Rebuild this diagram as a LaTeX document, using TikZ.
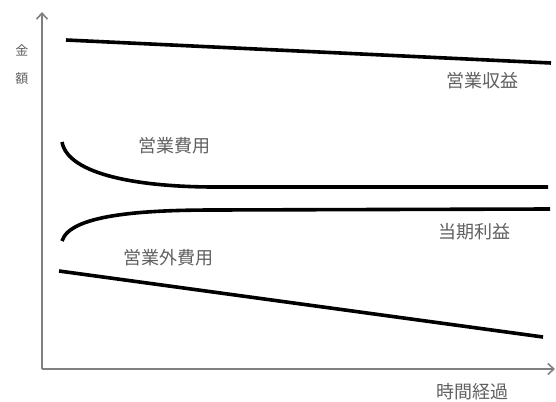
\documentclass[tikz,border=0pt]{standalone}
\usepackage{fontspec}
\newfontfamily\jpfont{Noto Sans CJK JP}
\usetikzlibrary{arrows.meta}

\begin{document}
\begin{tikzpicture}[x=1pt, y=-1pt, >={Straight Barb[length=6pt,width=11pt]},
    axis/.style={draw=gray, line width=1.6pt},
    curve/.style={draw=black, line width=3.6pt},
    label/.style={text=gray!75!black, font=\jpfont\fontsize{18}{18}\selectfont, inner sep=0pt},
    small/.style={text=gray!75!black, font=\jpfont\fontsize{13}{13}\selectfont, inner sep=0pt}]
    \useasboundingbox (0,0) rectangle (556,401);
    \coordinate (O) at (42,369);
    \coordinate (Y) at (42,12);
    \coordinate (X) at (555,369);
    \draw[axis,->] (O) -- (Y);
    \draw[axis,->] (O) -- (X);
    \node[small] (kin) at (22,50) {金};
    \node[small] (gaku) at (22,79) {額};
    % lines
    \coordinate (R1) at (66,40);
    \coordinate (R2) at (551,63);
    \draw[curve] (R1) -- (R2);
    \coordinate (C1) at (62,142);
    \coordinate (C2) at (215,187);
    \coordinate (C3) at (548,187);
    \draw[curve] (C1) .. controls (68,175) and (140,187) .. (C2) -- (C3);
    \coordinate (P1) at (62,241);
    \coordinate (P2) at (215,210);
    \coordinate (P3) at (550,209);
    \draw[curve] (P1) .. controls (70,215) and (140,210) .. (P2) -- (P3);
    \coordinate (N1) at (59,271);
    \coordinate (N2) at (543,337);
    \draw[curve] (N1) -- (N2);
    % labels
    \node[label] (rev) at (482,81) {営業収益};
    \node[label] (cost) at (174,146) {営業費用};
    \node[label] (profit) at (474,232) {当期利益};
    \node[label] (other) at (168,258) {営業外費用};
    \node[label] (time) at (472,392) {時間経過};
\end{tikzpicture}
\end{document}
